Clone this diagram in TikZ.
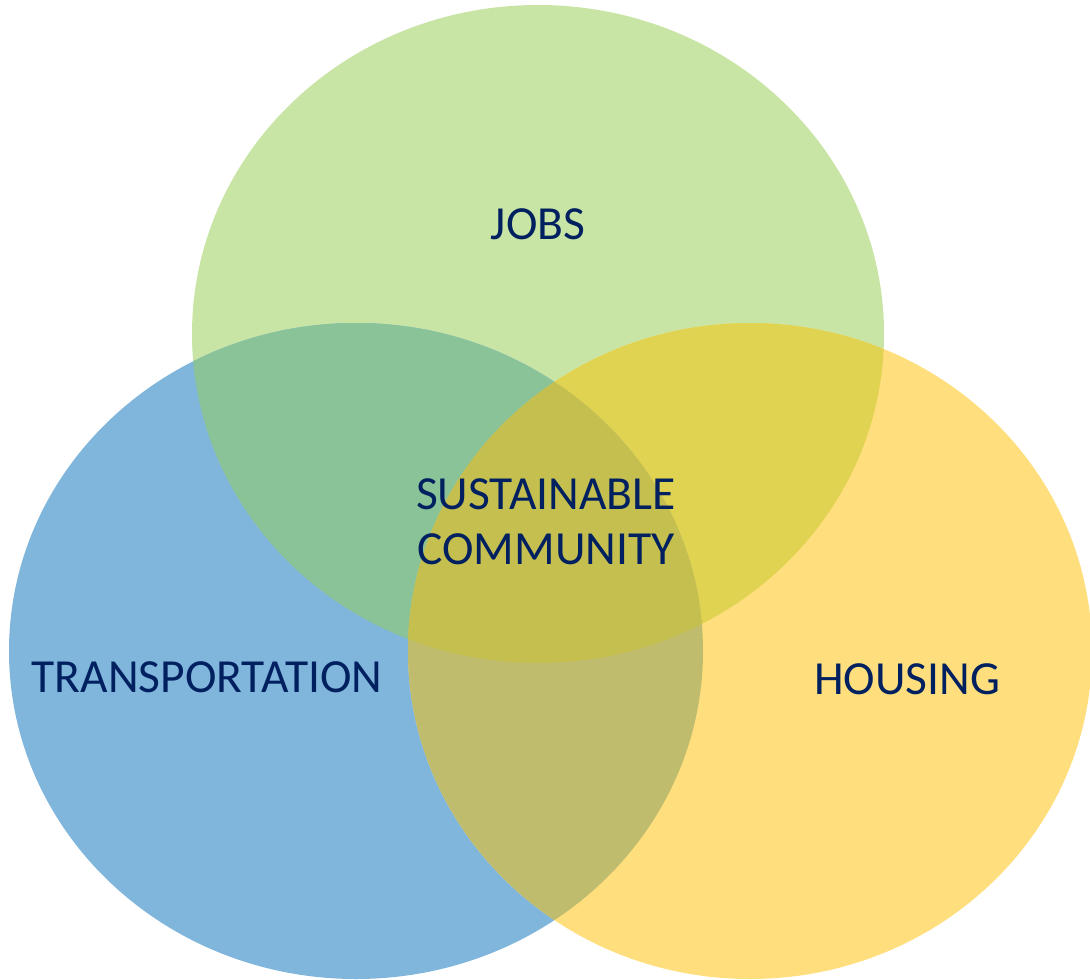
\documentclass[tikz,border=0pt]{standalone}
\usepackage{fontspec}
\setmainfont{Carlito}
\definecolor{cG}{HTML}{C9E5A5}
\definecolor{cB}{HTML}{80B5DC}
\definecolor{cY}{HTML}{FFDE7D}
\definecolor{cGB}{HTML}{8AC398}
\definecolor{cGY}{HTML}{E1D352}
\definecolor{cBY}{HTML}{C0BC6E}
\definecolor{cGBY}{HTML}{C4BF4F}
\definecolor{txt}{HTML}{002060}
\begin{document}
\begin{tikzpicture}[x=1pt,y=-1pt,
  lbl/.style={text=txt,font=\fontsize{47.5}{55}\selectfont,align=center,inner sep=0pt}]
\useasboundingbox (0,0) rectangle (1090,980);
\def\G{(538,334) ellipse [x radius=346,y radius=329]}
\def\B{(356,651) ellipse [x radius=347,y radius=328]}
\def\Y{(750,651) ellipse [x radius=342,y radius=328]}
\fill[cG] \G;
\fill[cB] \B;
\fill[cY] \Y;
\begin{scope}\clip \G; \fill[cGB] \B; \end{scope}
\begin{scope}\clip \G; \fill[cGY] \Y; \end{scope}
\begin{scope}\clip \B; \fill[cBY] \Y; \end{scope}
\begin{scope}\clip \G; \clip \B; \fill[cGBY] \Y; \end{scope}
\node[lbl] (jobs) at (538,224) {JOBS};
\node[lbl] (sc) at (546,522) {SUSTAINABLE\\COMMUNITY};
\node[lbl] (tr) at (207,677) {TRANSPORTATION};
\node[lbl] (ho) at (907,679) {HOUSING};
\end{tikzpicture}
\end{document}
